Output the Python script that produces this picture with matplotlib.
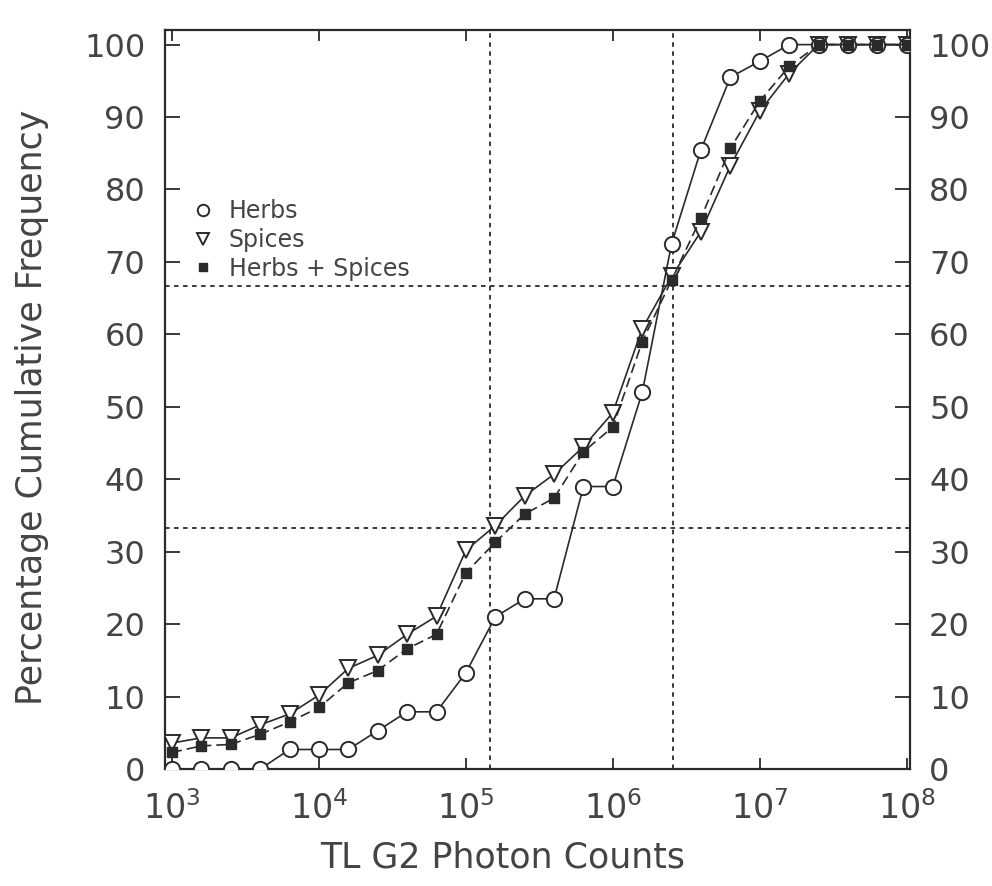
import numpy as np
import matplotlib
matplotlib.use("Agg")
import matplotlib.pyplot as plt

# ─── data ─────────────────────────────────────────────────────
# x positions as log10 of photon counts
exps = [3.0, 3.2, 3.4, 3.6, 3.8, 4.0, 4.2, 4.4, 4.6, 4.8,
        5.0, 5.2, 5.4, 5.6, 5.8, 6.0, 6.2, 6.4, 6.6, 6.8,
        7.0, 7.2, 7.4, 7.6, 7.8, 8.0]

herbs = [0, 0, 0, 0, 2.7, 2.7, 2.7, 5.3, 7.9, 7.9,
         13.3, 21.0, 23.5, 23.5, 39.0, 39.0, 52.0, 72.5, 85.5, 95.5,
         97.7, 100, 100, 100, 100, 100]

spices = [3.6, 4.3, 4.3, 6.1, 7.6, 10.2, 13.9, 15.7, 18.6, 21.1,
          30.2, 33.6, 37.7, 40.7, 44.5, 49.2, 60.8, 68.0, 74.2, 83.3,
          90.8, 96.0, 100, 100, 100, 100]

both = [2.3, 3.2, 3.4, 4.8, 6.5, 8.5, 11.9, 13.6, 16.6, 18.6,
        27.1, 31.3, 35.2, 37.4, 43.8, 47.2, 59.0, 67.5, 76.1, 85.7,
        92.2, 97.0, 100, 100, 100, 100]

labels = ['Herbs', 'Spices', 'Herbs + Spices']

# tercile reference lines
h_lines = [33.3, 66.7]
v_lines = [1.45e5, 2.55e6]

x = [10 ** e for e in exps]

# ─── figure ───────────────────────────────────────────────────
ink = '#2a2a2a'
txt = '#444444'
fig = plt.figure(figsize=(9.92, 8.86), dpi=100)
ax = fig.add_axes([0.166, 0.132, 0.751, 0.834])

for y in h_lines:
    ax.axhline(y, color=ink, lw=1.3, ls=(0, (2.5, 2.5)), zorder=1)
for xv in v_lines:
    ax.axvline(xv, color=ink, lw=1.3, ls=(0, (2.5, 2.5)), zorder=1)

ax.plot(x, herbs, color=ink, lw=1.2, marker='o', ms=11,
        mfc='white', mec=ink, mew=1.4, zorder=4, label=labels[0])
ax.plot(x, spices, color=ink, lw=1.2, marker='v', ms=11,
        mfc='white', mec=ink, mew=1.4, zorder=3, label=labels[1])
ax.plot(x, both, color=ink, lw=1.2, ls=(0, (6, 3)), marker='s', ms=7.5,
        mfc=ink, mec=ink, zorder=5, label=labels[2])

ax.set_xscale('log')
ax.set_xlim(10 ** 2.95, 10 ** 8.02)
ax.set_ylim(0, 102)

ax.set_xticks([10 ** k for k in range(3, 9)])
ax.set_xticklabels([f'$10^{{{k}}}$' for k in range(3, 9)])
ax.xaxis.set_minor_locator(matplotlib.ticker.NullLocator())
ax.set_yticks(range(0, 101, 10))

ax.tick_params(axis='both', direction='in', length=11, width=1.3,
               color=ink, labelcolor=txt, labelsize=23, top=True,
               right=True, labelright=True)
ax.tick_params(axis='y', pad=14)
ax.tick_params(axis='x', length=8, pad=16, labelsize=24)

for s in ax.spines.values():
    s.set_linewidth(1.6)
    s.set_color(ink)

ax.set_ylabel('Percentage Cumulative Frequency', fontsize=25, color=txt)
ax.yaxis.set_label_coords(-0.155, 0.49)
ax.set_xlabel('TL G2 Photon Counts', fontsize=25, color=txt)
ax.xaxis.set_label_coords(0.454, -0.097)

leg = ax.legend(loc='upper left', bbox_to_anchor=(0.01, 0.80),
                frameon=False, fontsize=17, handlelength=0.8,
                handletextpad=0.7, labelspacing=0.2, markerscale=0.75)
for h in leg.legend_handles:
    h.set_linestyle('none')
for t in leg.get_texts():
    t.set_color(txt)

fig.savefig('out.png', dpi=100)
